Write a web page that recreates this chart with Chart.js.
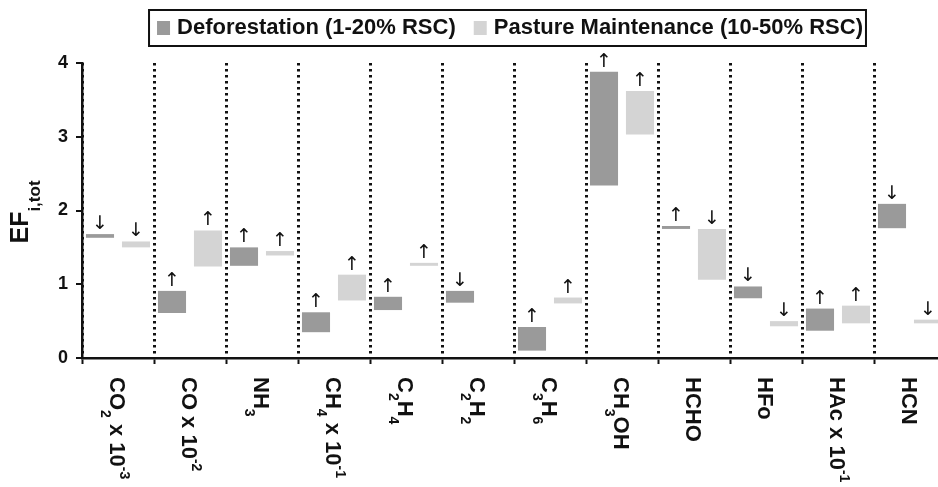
<!DOCTYPE html>
<html><head><meta charset="utf-8">
<script src="https://cdn.jsdelivr.net/npm/chart.js@4.4.1/dist/chart.umd.min.js"></script>
<style>
html,body{margin:0;padding:0;background:#fff;overflow:hidden;width:938px;height:487px}
#wrap{position:relative;width:960px;height:487px}
</style></head>
<body><div id="wrap"><canvas id="c"></canvas></div>
<script>
// ---- data ----
const categories = ['CO_{2} x 10^{-3}', 'CO x 10^{-2}', 'NH_{3}', 'CH_{4} x 10^{-1}', 'C_{2}H_{4}', 'C_{2}H_{2}', 'C_{3}H_{6}', 'CH_{3}OH', 'HCHO', 'HFo', 'HAc x 10^{-1}', 'HCN'];
const seriesNames = ['Deforestation (1-20% RSC)', 'Pasture Maintenance (10-50% RSC)'];
const deforLow  = [1.63, 0.61, 1.25, 0.35, 0.65, 0.75, 0.10, 2.34, 1.75, 0.81, 0.37, 1.76];
const deforHigh = [1.68, 0.91, 1.50, 0.62, 0.83, 0.91, 0.42, 3.88, 1.79, 0.97, 0.67, 2.09];
const pastLow   = [1.50, 1.24, 1.39, 0.78, 1.25, null, 0.74, 3.03, 1.06, 0.43, 0.47, 0.47];
const pastHigh  = [1.58, 1.73, 1.45, 1.13, 1.29, null, 0.82, 3.62, 1.75, 0.50, 0.71, 0.52];
const deforArrows = ['↓', '↑', '↑', '↑', '↑', '↓', '↑', '↑', '↑', '↓', '↑', '↓'];
const pastArrows  = ['↓', '↑', '↑', '↑', '↑', '',  '↑', '↑', '↓', '↓', '↑', '↓'];
const yTicks = [0, 1, 2, 3, 4];
const yTitle = 'EF_{i,tot}';

const colors = ['#9a9a9a', '#d4d4d4'];
const FONT = '"Liberation Sans", Arial, Helvetica, sans-serif';
const INK = '#111';

function parseRich(s) {
  const out = [];
  const re = /(_\{[^}]*\}|\^\{[^}]*\})/g;
  let last = 0, m;
  while ((m = re.exec(s)) !== null) {
    if (m.index > last) out.push({t: 'n', s: s.slice(last, m.index)});
    out.push({t: m[0][0] === '_' ? 'sub' : 'sup', s: m[0].slice(2, -1)});
    last = m.index + m[0].length;
  }
  if (last < s.length) out.push({t: 'n', s: s.slice(last)});
  return out;
}
function richWidth(ctx, parts, fs, small) {
  let w = 0;
  parts.forEach(p => {
    const size = p.t === 'n' ? fs : small;
    ctx.font = `bold ${size}px ${FONT}`;
    w += ctx.measureText(p.s).width;
  });
  return w;
}
function drawRich(ctx, parts, x0, base, fs, small, subDy, supDy) {
  let x = x0;
  parts.forEach(p => {
    const size = p.t === 'n' ? fs : small;
    const dy = p.t === 'sub' ? subDy : (p.t === 'sup' ? supDy : 0);
    ctx.font = `bold ${size}px ${FONT}`;
    ctx.fillText(p.s, x, base + dy);
    x += ctx.measureText(p.s).width;
  });
}

const decorPlugin = {
  id: 'decor',
  afterDraw(chart) {
    const ctx = chart.ctx;
    const xs = chart.scales.x;
    ctx.save();
    ctx.fillStyle = INK;
    ctx.textBaseline = 'alphabetic';
    ctx.textAlign = 'left';

    // arrows above bars
    const arrowSets = [deforArrows, pastArrows];
    chart.data.datasets.forEach((ds, di) => {
      const meta = chart.getDatasetMeta(di);
      meta.data.forEach((el, i) => {
        const a = arrowSets[di][i];
        if (!a || ds.data[i] == null) return;
        const top = Math.min(el.y, el.base);
        ctx.font = `19px "DejaVu Sans", sans-serif`;
        ctx.textAlign = 'center';
        ctx.fillText(a, el.x, top - 5);
      });
    });
    ctx.textAlign = 'left';

    // x category labels, rotated clockwise
    const fs = 22, small = 14;
    categories.forEach((lab, i) => {
      const cx = xs.getPixelForValue(i);
      const parts = parseRich(lab);
      ctx.save();
      ctx.translate(cx, 377);
      ctx.rotate(Math.PI / 2);
      drawRich(ctx, parts, 0, fs * 0.716 / 2, fs, small, fs * 0.42, -fs * 0.45);
      ctx.restore();
    });

    // y title
    {
      const tfs = 25, tsm = 17;
      const parts = parseRich(yTitle);
      const w = richWidth(ctx, parts, tfs, tsm);
      ctx.save();
      ctx.translate(19, 212);
      ctx.rotate(-Math.PI / 2);
      drawRich(ctx, parts, -w / 2, tfs * 0.716 / 2, tfs, tsm, tfs * 0.5, -tfs * 0.45);
      ctx.restore();
    }

    // legend with frame
    {
      const lfs = 22, sw = 13, sh = 14, gap = 7, itemGap = 18;
      ctx.font = `bold ${lfs}px ${FONT}`;
      const widths = seriesNames.map(n => ctx.measureText(n).width);
      let total = 0;
      widths.forEach((w, i) => { total += sw + gap + w + (i < widths.length - 1 ? itemGap : 0); });
      const cxl = 510, cy = 28;
      let x = cxl - total / 2;
      const left = x - 8, right = x + total + 3;
      ctx.lineWidth = 2;
      ctx.strokeStyle = INK;
      ctx.strokeRect(left, 10, right - left, 36);
      seriesNames.forEach((n, i) => {
        ctx.fillStyle = colors[i];
        ctx.fillRect(x, cy - sh / 2, sw, sh);
        x += sw + gap;
        ctx.fillStyle = INK;
        ctx.font = `bold ${lfs}px ${FONT}`;
        ctx.textBaseline = 'middle';
        ctx.fillText(n, x, cy);
        x += widths[i] + itemGap;
      });
    }
    ctx.restore();
  }
};

const ctx = document.getElementById('c').getContext('2d');
new Chart(ctx, {
  type: 'bar',
  data: {
    labels: categories,
    datasets: [
      {label: seriesNames[0], data: deforLow.map((v, i) => [v, deforHigh[i]]), backgroundColor: colors[0], borderWidth: 0},
      {label: seriesNames[1], data: pastLow.map((v, i) => v == null ? null : [v, pastHigh[i]]), backgroundColor: colors[1], borderWidth: 0}
    ]
  },
  options: {
    responsive: true,
    maintainAspectRatio: false,
    animation: false,
    layout: {padding: {top: 63, right: 14, left: 0, bottom: 0}},
    datasets: {bar: {categoryPercentage: 1.0, barPercentage: 0.78, grouped: true}},
    plugins: {legend: {display: false}, tooltip: {enabled: false}},
    scales: {
      x: {
        type: 'category',
        offset: true,
        grid: {display: true, offset: true, drawOnChartArea: true, drawTicks: true, tickLength: 6,
               color: INK, lineWidth: 3, tickColor: INK, tickWidth: 2, tickBorderDash: []},
        border: {display: true, color: INK, width: 2.5, dash: [2.5, 3.5]},
        ticks: {display: false},
        afterFit(scale) { scale.height = 129; }
      },
      y: {
        min: 0, max: 4,
        afterBuildTicks(scale) { scale.ticks = yTicks.map(v => ({value: v})); },
        grid: {display: true, drawOnChartArea: false, drawTicks: true, tickLength: 6, color: INK, lineWidth: 2},
        border: {display: true, color: INK, width: 2.5},
        ticks: {color: INK, padding: 8, font: {family: FONT, size: 18, weight: 'bold'}},
        afterFit(scale) { scale.width = 82; }
      }
    }
  },
  plugins: [decorPlugin]
});
</script>
</body></html>
